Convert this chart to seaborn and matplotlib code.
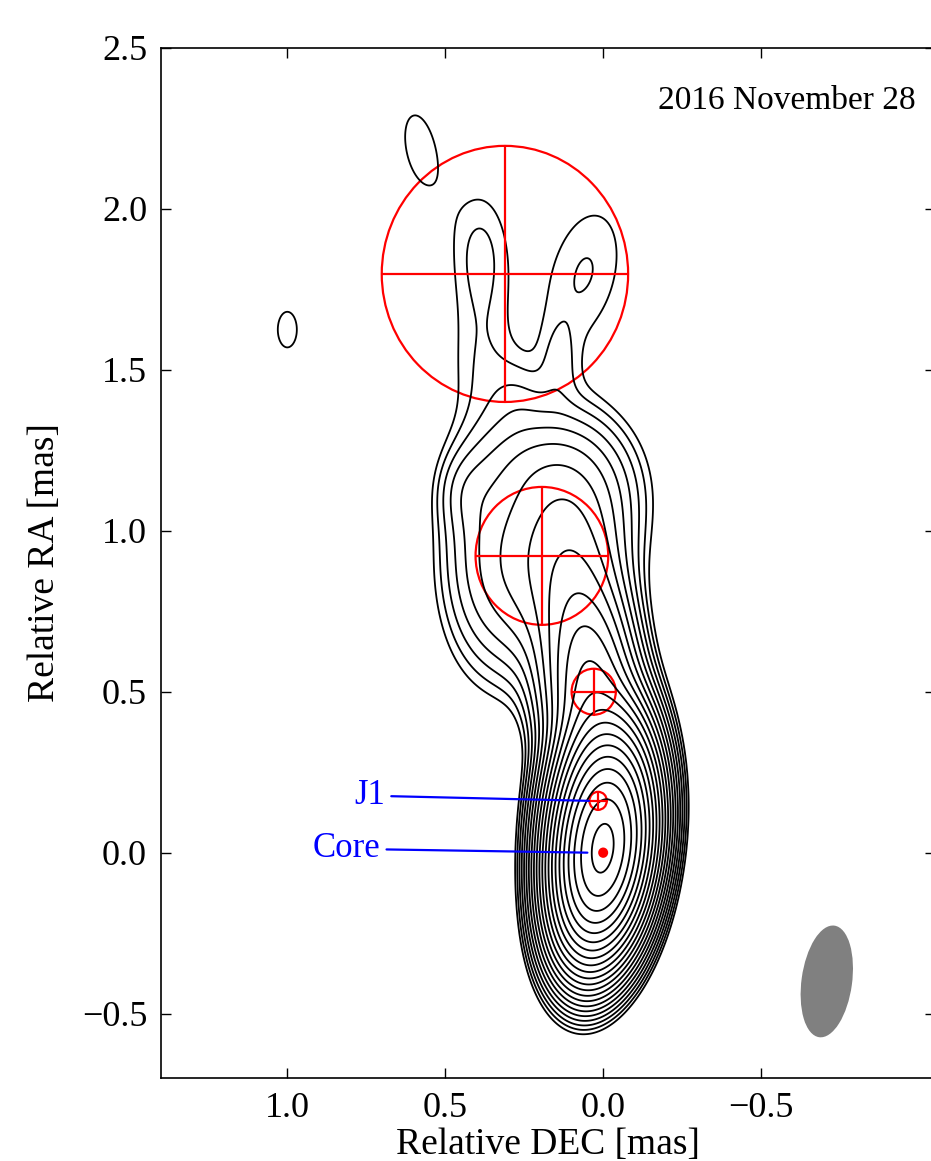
import numpy as np
import seaborn as sns
import matplotlib.pyplot as plt
from matplotlib.patches import Ellipse

# Gaussian emission blobs (beam-convolved): x = rel. DEC [mas], y = rel. RA [mas]
blob_x = [0.00, 0.02, 0.04, 0.08, 0.19, 0.38, 0.44, 0.08, 0.25, 0.39, 0.39, 0.06, 0.14, 0.27, 0.58, 1.00]
blob_y = [0.00, 0.16, 0.50, 0.74, 0.92, 0.95, 1.12, 1.12, 1.22, 1.50, 1.86, 1.80, 1.52, 1.42, 2.19, 1.625]
blob_peak = [1500, 250, 40, 12, 9, 2.5, 1.4, 3.5, 2.0, 1.05, 1.52, 1.45, 0.9, 0.9, 1.28, 1.3]
blob_major = [0.35, 0.36, 0.38, 0.42, 0.50, 0.50, 0.20, 0.35, 0.25, 0.35, 0.42, 0.50, 0.22, 0.20, 0.34, 0.18]
blob_minor = [0.16, 0.17, 0.18, 0.20, 0.32, 0.22, 0.14, 0.30, 0.30, 0.20, 0.19, 0.26, 0.10, 0.15, 0.145, 0.098]
blob_pa = [8, 8, 0, 0, 10, 0, 0, 0, 0, 0, 0, 14, 0, 0, -11, 0]

# model-fit components (red circles): centre and FWHM diameter
comp_x = [0.000, 0.016, 0.030, 0.194, 0.311]
comp_y = [0.000, 0.161, 0.500, 0.922, 1.798]
comp_d = [0.025, 0.055, 0.14, 0.42, 0.78]

# contour levels: lowest level times sqrt(2)^k
levels = 2.0 ** (np.arange(22) / 2.0)

# restoring beam
beam_x, beam_y = -0.708, -0.40
beam_major, beam_minor, beam_pa = 0.35, 0.16, 8

# build the image on a grid
gx = np.linspace(-1.05, 1.4, 600)
gy = np.linspace(-0.7, 2.5, 800)
X, Y = np.meshgrid(gx, gy)
img = np.zeros_like(X)
f = 2.0 * np.sqrt(2.0 * np.log(2.0))
for x0, y0, p, a, b, pa in zip(blob_x, blob_y, blob_peak, blob_major, blob_minor, blob_pa):
    t = np.deg2rad(pa)
    dx, dy = X - x0, Y - y0
    u = -dx * np.sin(t) + dy * np.cos(t)
    v = dx * np.cos(t) + dy * np.sin(t)
    img += p * np.exp(-0.5 * ((u / (a / f)) ** 2 + (v / (b / f)) ** 2))

sns.set_style("ticks")
plt.rcParams["font.family"] = "serif"
plt.rcParams["font.serif"] = ["Liberation Serif", "DejaVu Serif"]
plt.rcParams["mathtext.fontset"] = "stix"
plt.rcParams["text.color"] = "black"
plt.rcParams["axes.labelcolor"] = "black"
plt.rcParams["axes.edgecolor"] = "black"
plt.rcParams["xtick.color"] = "black"
plt.rcParams["ytick.color"] = "black"

fig = plt.figure(figsize=(9.31, 11.61), dpi=100)
ax = fig.add_axes([0.1729, 0.0715, 0.8312, 0.8872])

ax.contour(X, Y, img, levels=levels, colors="black", linewidths=1.3)

for cx, cy, d in zip(comp_x, comp_y, comp_d):
    if d < 0.04:
        ax.add_patch(Ellipse((cx, cy), d, d * 1.02, facecolor="red", edgecolor="red", lw=1.5))
        continue
    ax.add_patch(Ellipse((cx, cy), d, d * 1.02, fill=False, edgecolor="red", lw=1.6))
    ax.plot([cx - d / 2, cx + d / 2], [cy, cy], color="red", lw=1.6)
    ax.plot([cx, cx], [cy - d / 2 * 1.02, cy + d / 2 * 1.02], color="red", lw=1.6)

ax.add_patch(Ellipse((beam_x, beam_y), beam_minor, beam_major, angle=beam_pa,
                     facecolor="gray", edgecolor="none"))

ax.annotate("J1", xy=(0.045, 0.161), xytext=(0.69, 0.177), color="blue", fontsize=25,
            ha="right", va="center",
            arrowprops=dict(arrowstyle="-", color="blue", lw=1.6, shrinkA=2, shrinkB=0))
ax.annotate("Core", xy=(0.05, 0.0), xytext=(0.705, 0.012), color="blue", fontsize=25,
            ha="right", va="center",
            arrowprops=dict(arrowstyle="-", color="blue", lw=1.6, shrinkA=2, shrinkB=0))

ax.text(0.975, 0.949, "2016 November 28", transform=ax.transAxes, fontsize=24,
        ha="right", va="center")

ax.set_xlim(1.4, -1.05)
ax.set_ylim(-0.7, 2.5)
ax.set_xticks([1.0, 0.5, 0.0, -0.5])
ax.set_yticks([-0.5, 0.0, 0.5, 1.0, 1.5, 2.0, 2.5])
ax.tick_params(direction="in", length=7, width=1.0, labelsize=26, top=True, right=True, pad=10)
for s in ax.spines.values():
    s.set_linewidth(1.2)
ax.set_xlabel("Relative DEC [mas]", fontsize=27, labelpad=2)
ax.set_ylabel("Relative RA [mas]", fontsize=27, labelpad=14)

fig.savefig("out.png", dpi=100)
